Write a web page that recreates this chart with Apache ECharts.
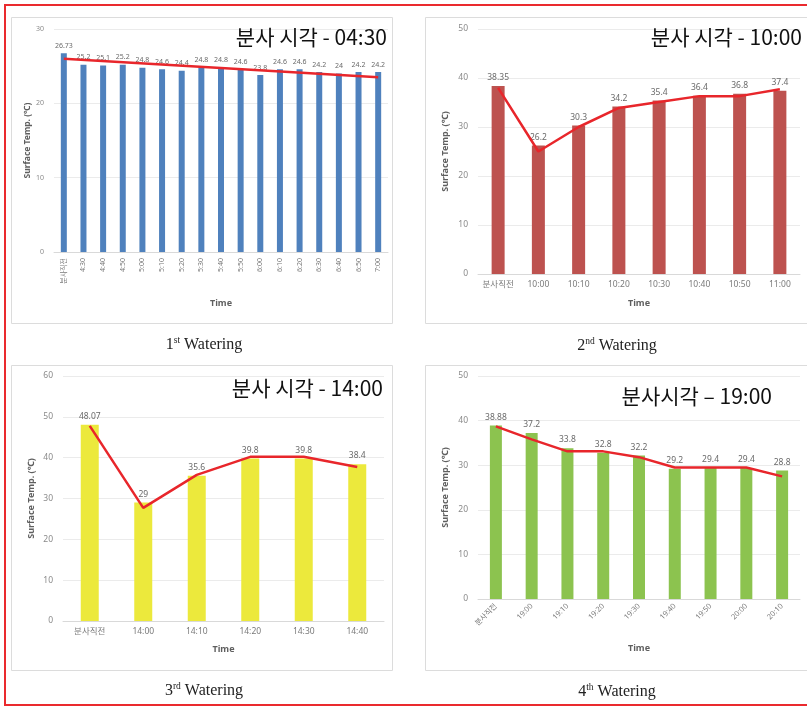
<!DOCTYPE html>
<html>
<head>
<meta charset="utf-8">
<script src="https://cdn.jsdelivr.net/npm/echarts@6/dist/echarts.min.js"></script>
<style>
  html, body { margin: 0; padding: 0; background: #ffffff; }
  #chart { width: 807px; height: 707px; }
</style>
</head>
<body>
<div id="chart"></div>
<script>
// 1st watering (04:30)
const cats1 = ['분사직전', '4:30', '4:40', '4:50', '5:00', '5:10', '5:20', '5:30', '5:40', '5:50', '6:00', '6:10', '6:20', '6:30', '6:40', '6:50', '7:00'];
const temps1 = [26.73, 25.2, 25.1, 25.2, 24.8, 24.6, 24.4, 24.8, 24.8, 24.6, 23.8, 24.6, 24.6, 24.2, 24, 24.2, 24.2];
const trend1 = [[0, 26.0], [16, 23.5]];

// 2nd watering (10:00)
const cats2 = ['분사직전', '10:00', '10:10', '10:20', '10:30', '10:40', '10:50', '11:00'];
const temps2 = [38.35, 26.2, 30.3, 34.2, 35.4, 36.4, 36.8, 37.4];
const trend2 = [38.0, 25.0, 30.0, 33.9, 35.1, 36.3, 36.3, 37.7];

// 3rd watering (14:00)
const cats3 = ['분사직전', '14:00', '14:10', '14:20', '14:30', '14:40'];
const temps3 = [48.07, 29, 35.6, 39.8, 39.8, 38.4];
const trend3 = [47.8, 27.7, 35.8, 40.2, 40.2, 37.7];

// 4th watering (19:00)
const cats4 = ['분사직전', '19:00', '19:10', '19:20', '19:30', '19:40', '19:50', '20:00', '20:10'];
const temps4 = [38.88, 37.2, 33.8, 32.8, 32.2, 29.2, 29.4, 29.4, 28.8];
const trend4 = [38.7, 35.8, 33.1, 33.1, 31.8, 29.5, 29.5, 29.5, 27.5];

const yMax = [30, 50, 60, 50];

const FONT = '"Noto Sans", "Noto Sans CJK KR", sans-serif';
const KR = '"Noto Sans CJK KR", sans-serif';
const SERIF = '"Liberation Serif", "DejaVu Serif", serif';
const LINE_RED = '#e8262b';

const panels = [
  { cats: cats1, temps: temps1, trend: trend1, max: yMax[0], color: '#4f81bd',
    grid: { left: 54, top: 29, width: 334, height: 223 }, barWidth: 6,
    rotate: 90, xTick: 7, yTick: 7, label: 7, yGap: 22, xGap: 47, yName: 8.5 },
  { cats: cats2, temps: temps2, trend: trend2, max: yMax[1], color: '#bd524f',
    grid: { left: 478, top: 29, width: 322, height: 245 }, barWidth: 13,
    rotate: 0, xTick: 8.5, yTick: 8.5, label: 8.5, yGap: 28, xGap: 25, yName: 9 },
  { cats: cats3, temps: temps3, trend: trend3, max: yMax[2], color: '#ece93c',
    grid: { left: 63, top: 376, width: 321, height: 245 }, barWidth: 18,
    rotate: 0, xTick: 8.5, yTick: 8.5, label: 8.5, yGap: 27, xGap: 24, yName: 9 },
  { cats: cats4, temps: temps4, trend: trend4, max: yMax[3], color: '#8cc34f',
    grid: { left: 478, top: 376, width: 322, height: 223 }, barWidth: 12,
    rotate: 45, xTick: 7.5, yTick: 8.5, label: 8.5, yGap: 28, xGap: 45, yName: 9 }
];

const grids = [], xAxes = [], yAxes = [], series = [];
panels.forEach((p, i) => {
  grids.push(Object.assign({ containLabel: false }, p.grid));
  xAxes.push({
    type: 'category', gridIndex: i, data: p.cats,
    name: 'Time', nameLocation: 'middle', nameGap: p.xGap,
    nameTextStyle: { fontFamily: FONT, fontWeight: 'bold', fontSize: 9, color: '#5f5f5f' },
    axisLine: { lineStyle: { color: '#d9d9d9' } },
    axisTick: { show: false },
    axisLabel: { interval: 0, rotate: p.rotate, fontFamily: FONT, fontSize: p.xTick, color: '#7a7a7a', margin: 6 }
  });
  yAxes.push({
    type: 'value', gridIndex: i, min: 0, max: p.max, interval: 10,
    name: 'Surface Temp. (\u2103)', nameLocation: 'middle', nameGap: p.yGap, nameRotate: 90,
    nameTextStyle: { fontFamily: FONT, fontWeight: 'bold', fontSize: p.yName, color: '#5f5f5f' },
    axisLine: { show: false }, axisTick: { show: false },
    axisLabel: { fontFamily: FONT, fontSize: p.yTick, color: '#8a8a8a', margin: 10 },
    splitLine: { lineStyle: { color: '#ebebeb' } }
  });
  series.push({
    type: 'bar', xAxisIndex: i, yAxisIndex: i, data: p.temps, barWidth: p.barWidth,
    itemStyle: { color: p.color },
    label: { show: true, position: 'top', distance: 4, fontFamily: FONT, fontSize: p.label, color: '#6a6a6a' },
    z: 2
  });
  series.push({
    type: 'line', xAxisIndex: i, yAxisIndex: i, data: p.trend,
    showSymbol: false, symbol: 'none',
    lineStyle: { color: LINE_RED, width: 2.5 },
    z: 3
  });
});

function panelBox(x, y, w, h) {
  return { type: 'rect', shape: { x: x, y: y, width: w, height: h }, z: -10,
    style: { fill: '#ffffff', stroke: '#dcdcdc', lineWidth: 1 } };
}
function heading(text, right, y) {
  return { type: 'text', x: right, y: y, z: 10,
    style: { text: text, fontFamily: KR, fontSize: 21, fill: '#111111', align: 'right', verticalAlign: 'middle' } };
}
// caption with a raised ordinal suffix
function caption(num, sup, cx, cy) {
  return { type: 'text', x: cx, y: cy, z: 10,
    style: {
      text: '{n|' + num + '}{s|' + sup + '}{n| Watering}',
      align: 'center', verticalAlign: 'middle',
      rich: {
        n: { fontFamily: SERIF, fontSize: 16, fill: '#222222', verticalAlign: 'bottom', lineHeight: 18 },
        s: { fontFamily: SERIF, fontSize: 9.5, fill: '#222222', verticalAlign: 'bottom', lineHeight: 11, padding: [0, 0, 8, 0] }
      }
    } };
}

const option = {
  animation: false,
  backgroundColor: '#ffffff',
  grid: grids, xAxis: xAxes, yAxis: yAxes, series: series,
  graphic: [
    panelBox(11.5, 17.5, 381, 306),
    panelBox(425.5, 17.5, 400, 306),
    panelBox(11.5, 365.5, 381, 305),
    panelBox(425.5, 365.5, 400, 305),
    heading('분사 시각 - 04:30', 387, 37),
    heading('분사 시각 - 10:00', 802, 37),
    heading('분사 시각 - 14:00', 383, 388),
    heading('분사시각 \u2013 19:00', 772, 396),
    caption('1', 'st', 204, 344),
    caption('2', 'nd', 617, 345),
    caption('3', 'rd', 204, 690),
    caption('4', 'th', 617, 691),
    { type: 'rect', shape: { x: 5, y: 5, width: 830, height: 700 }, z: 20,
      style: { fill: 'none', stroke: '#ea2a2e', lineWidth: 2 } }
  ]
};

const chart = echarts.init(document.getElementById('chart'), null, { renderer: 'canvas' });
chart.setOption(option);
</script>
</body>
</html>
